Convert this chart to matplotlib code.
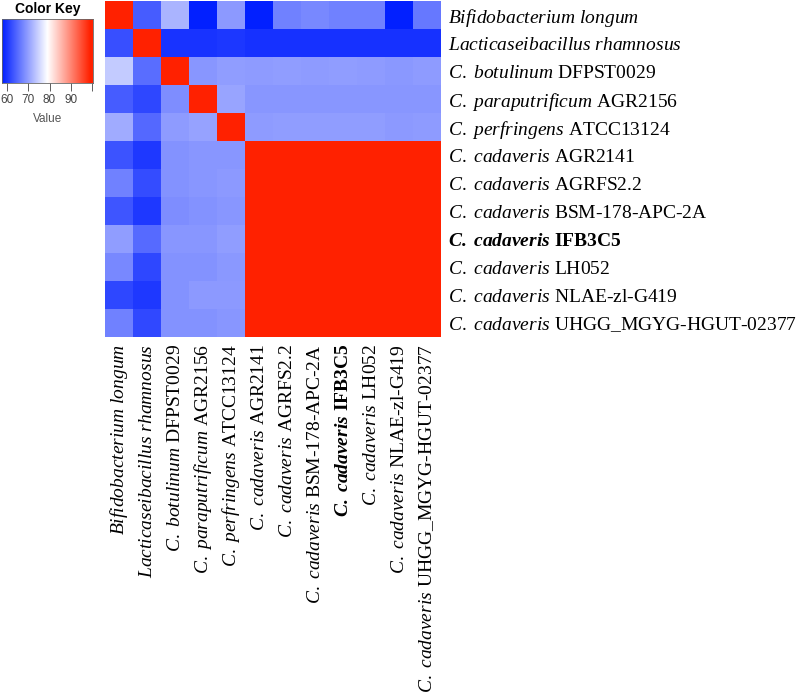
import numpy as np
import matplotlib
matplotlib.use("Agg")
import matplotlib.pyplot as plt
from matplotlib.colors import LinearSegmentedColormap, Normalize

plt.rcParams['font.family'] = ['Liberation Serif', 'DejaVu Serif']
plt.rcParams['mathtext.fontset'] = 'custom'
plt.rcParams['mathtext.rm'] = 'Liberation Serif'
plt.rcParams['mathtext.it'] = 'Liberation Serif:italic'
plt.rcParams['mathtext.bf'] = 'Liberation Serif:bold'
plt.rcParams['mathtext.bfit'] = 'Liberation Serif:italic:bold'

labels = [
    r'$\mathit{Bifidobacterium\ longum}$',
    r'$\mathit{Lacticaseibacillus\ rhamnosus}$',
    r'$\mathit{C.\ botulinum}$ DFPST0029',
    r'$\mathit{C.\ paraputrificum}$ AGR2156',
    r'$\mathit{C.\ perfringens}$ ATCC13124',
    r'$\mathit{C.\ cadaveris}$ AGR2141',
    r'$\mathit{C.\ cadaveris}$ AGRFS2.2',
    r'$\mathit{C.\ cadaveris}$ BSM-178-APC-2A',
    r'$\mathbfit{C.\ cadaveris}$ IFB3C5',
    r'$\mathit{C.\ cadaveris}$ LH052',
    r'$\mathit{C.\ cadaveris}$ NLAE-zl-G419',
    r'$\mathit{C.\ cadaveris}$ UHGG_MGYG-HGUT-02377',
]
bold_label = 8

values = np.array([
    [100.0, 63.6, 71.9, 57.8, 69.4, 57.8, 67.0, 67.7, 67.0, 67.0, 57.8, 66.2],
    [62.3, 100.0, 59.7, 59.7, 60.0, 59.5, 59.5, 59.5, 59.5, 59.5, 59.5, 59.5],
    [74.1, 65.3, 100.0, 69.0, 69.8, 69.6, 69.8, 69.6, 69.8, 69.6, 69.2, 69.6],
    [63.6, 61.5, 68.3, 100.0, 70.4, 69.0, 69.0, 69.0, 69.0, 69.0, 69.0, 69.0],
    [71.1, 64.7, 69.6, 70.2, 100.0, 69.6, 69.8, 69.8, 69.8, 69.8, 69.4, 69.6],
    [62.7, 60.2, 68.7, 69.0, 69.0, 100.0, 99.8, 99.8, 99.8, 99.8, 99.8, 99.8],
    [67.0, 62.1, 68.7, 69.0, 69.4, 99.8, 100.0, 99.8, 99.8, 99.8, 99.8, 99.8],
    [62.9, 60.2, 68.3, 68.7, 69.0, 99.8, 99.8, 100.0, 99.8, 99.8, 99.8, 99.8],
    [69.8, 64.9, 69.0, 69.0, 69.8, 99.8, 99.8, 99.8, 100.0, 99.8, 99.8, 99.8],
    [67.7, 61.5, 68.7, 68.8, 69.2, 99.8, 99.8, 99.8, 99.8, 100.0, 99.8, 99.8],
    [61.5, 60.2, 68.7, 69.4, 69.4, 99.8, 99.8, 99.8, 99.8, 99.8, 100.0, 99.8],
    [67.0, 61.7, 68.7, 68.7, 69.0, 99.8, 99.8, 99.8, 99.8, 99.8, 99.8, 100.0],
])

key_ticks = [60, 70, 80, 90, 100]
key_ticklabels = ['60', '70', '80', '90', '']
vmin, vmax = 57.6, 100.5

cmap = LinearSegmentedColormap.from_list(
    'key', [(0.0, (0.0, 0.12, 1.0)), (0.5, (1, 1, 1)),
            (0.97, (1.0, 0.13, 0.0)), (1.0, (1.0, 0.13, 0.0))])
norm = Normalize(vmin=vmin, vmax=vmax)

W, H = 800, 698
fig = plt.figure(figsize=(W / 100, H / 100), dpi=100)

ax = fig.add_axes([105 / W, 1 - 337 / H, 336 / W, 336 / H])
n = len(labels)
ax.imshow(values, cmap=cmap, norm=norm, aspect='auto', interpolation='nearest')
ax.set_xticks(range(n))
ax.set_yticks(range(n))
ax.set_xticklabels(labels, rotation=90, fontsize=14)
ax.set_yticklabels(labels, fontsize=14)
ax.yaxis.tick_right()
ax.tick_params(length=0, pad=5)
for t in ax.get_xticklabels()[bold_label:bold_label + 1] + ax.get_yticklabels()[bold_label:bold_label + 1]:
    t.set_fontweight('bold')
for s in ax.spines.values():
    s.set_visible(False)

# Color key
kax = fig.add_axes([2 / W, 1 - 83 / H, 91 / W, 64 / H])
grad = np.linspace(vmin, vmax, 512)[None, :]
kax.imshow(grad, cmap=cmap, norm=norm, aspect='auto', extent=[vmin, vmax, 0, 1])
kax.set_xlim(vmin, vmax)
kax.set_yticks([])
kax.set_xticks(key_ticks)
kax.set_xticklabels(key_ticklabels, fontsize=8.5, family='Liberation Sans', color='#444444')
kax.tick_params(axis='x', length=6, width=0.6, pad=2, color='#444444')
kax.set_xlabel('Value', fontsize=8.5, family='Liberation Sans', color='#555555', labelpad=5)
kax.set_title('Color Key', fontsize=10, family='Liberation Sans', fontweight='bold', pad=4)
for s in kax.spines.values():
    s.set_linewidth(0.6)
    s.set_color('#666666')

fig.savefig('out.png', dpi=100)
